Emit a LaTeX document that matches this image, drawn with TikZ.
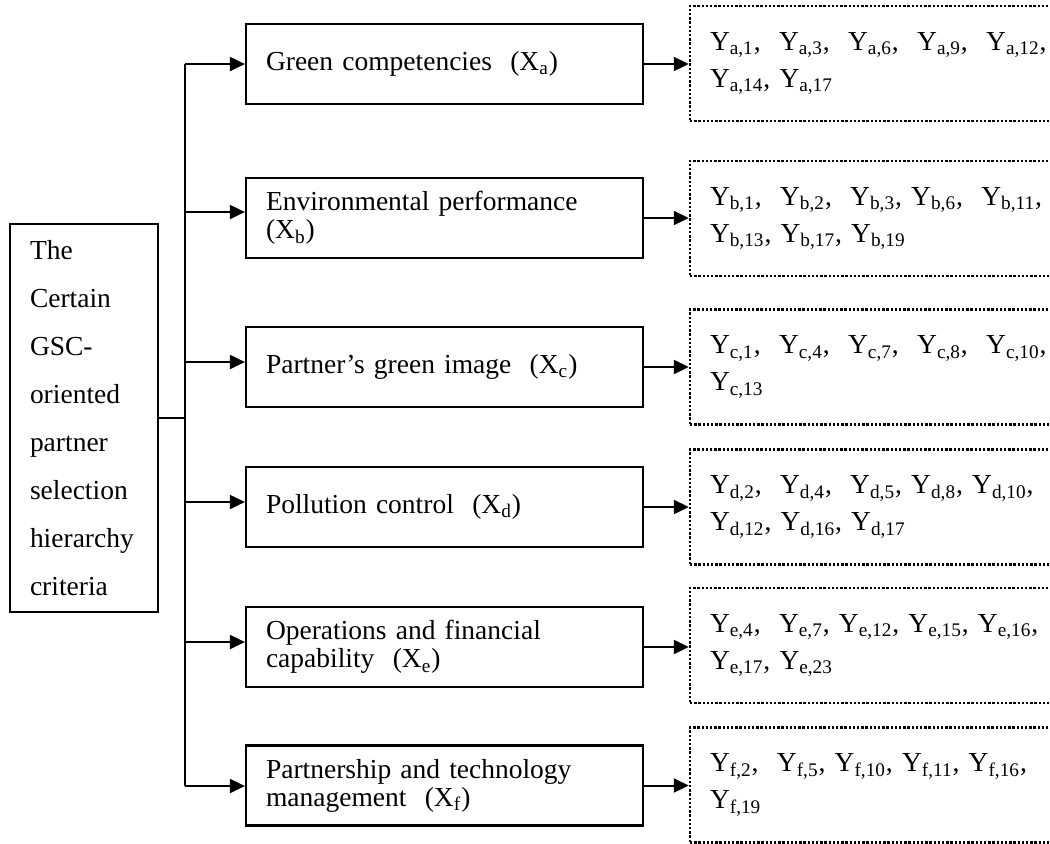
\documentclass[tikz,border=0pt]{standalone}
\usepackage{fontspec}
\setmainfont{Liberation Serif}
\usetikzlibrary{arrows.meta}
\newcommand{\Ysub}[1]{Y\textsubscript{#1}}
\newcommand{\Xsub}[1]{(X\textsubscript{#1})}
\begin{document}
\begin{tikzpicture}[x=0.5pt,y=-0.5pt,
  rootbox/.style={draw, line width=1pt, inner xsep=10pt, inner ysep=0pt,
    text width=54pt, align=left, minimum width=74pt, minimum height=194pt,
    font=\fontsize{13.75}{24}\selectfont},
  critbox/.style={draw, line width=1.1pt, inner xsep=10pt, inner ysep=0pt,
    text width=178.5pt, align=left, minimum width=198.5pt, minimum height=40pt,
    font=\fontsize{13.75}{14}\selectfont},
  itembox/.style={draw, line width=1.2pt, dash pattern=on 1.2pt off 0.9pt,
    inner xsep=10pt, inner ysep=0pt, text width=170pt, align=left,
    minimum width=190pt, minimum height=57.5pt,
    font=\fontsize{13.75}{18.5}\selectfont},
  link/.style={line width=1pt},
  arr/.style={line width=1pt, -{Triangle[length=7.5pt,width=7pt]}}
]
\useasboundingbox (0,0) rectangle (1050,843);
\clip (0,0) rectangle (1050,843);

% root criterion
\node[rootbox] (lb) at (84,418)
  {The\\Certain\\GSC-\\oriented\\partner\\selection\\hierarchy\\criteria};

% main criteria
\node[critbox] (b1) at (444.5,64)  {Green competencies~~\Xsub{a}};
\node[critbox] (b2) at (444.5,218) {Environmental performance\\\Xsub{b}};
\node[critbox] (b3) at (444.5,367) {Partner’s green image~~\Xsub{c}};
\node[critbox] (b4) at (444.5,507) {Pollution control~~\Xsub{d}};
\node[critbox] (b5) at (444.5,647) {Operations and financial\\capability~~\Xsub{e}};
\node[critbox] (b6) at (444.5,785.5) {Partnership and technology\\management~~\Xsub{f}};

% sub-criteria lists
\node[itembox] (d1) at (880,63.5)
  {\Ysub{a,1},~~\Ysub{a,3},~~\Ysub{a,6},~~\Ysub{a,9},~~\Ysub{a,12},\\\Ysub{a,14}, \Ysub{a,17}};
\node[itembox] (d2) at (880,218.5)
  {\Ysub{b,1},~~\Ysub{b,2},~~\Ysub{b,3}, \Ysub{b,6},~~\Ysub{b,11},\\\Ysub{b,13}, \Ysub{b,17}, \Ysub{b,19}};
\node[itembox] (d3) at (880,367)
  {\Ysub{c,1},~~\Ysub{c,4},~~\Ysub{c,7},~~\Ysub{c,8},~~\Ysub{c,10},\\\Ysub{c,13}};
\node[itembox] (d4) at (880,507)
  {\Ysub{d,2},~~\Ysub{d,4},~~\Ysub{d,5}, \Ysub{d,8}, \Ysub{d,10},\\\Ysub{d,12}, \Ysub{d,16}, \Ysub{d,17}};
\node[itembox] (d5) at (880,645.5)
  {\Ysub{e,4},~~\Ysub{e,7}, \Ysub{e,12}, \Ysub{e,15}, \Ysub{e,16},\\\Ysub{e,17}, \Ysub{e,23}};
\node[itembox] (d6) at (880,785)
  {\Ysub{f,2},~~\Ysub{f,5}, \Ysub{f,10}, \Ysub{f,11}, \Ysub{f,16},\\\Ysub{f,19}};

% bus junctions
\coordinate (jl) at (185,418);
\coordinate (j1) at (185,64);
\coordinate (j2) at (185,212);
\coordinate (j3) at (185,362);
\coordinate (j4) at (185,502);
\coordinate (j5) at (185,642);
\coordinate (j6) at (185,786);

\draw[link] (lb) -- (jl);
\draw[link] (j1) -- (j6);
\foreach \i in {1,...,6}{
  \draw[arr] (j\i) -- (j\i -| b\i.west);
  \draw[arr] (b\i.east) -- (b\i.east -| d\i.west);
}
\end{tikzpicture}
\end{document}
